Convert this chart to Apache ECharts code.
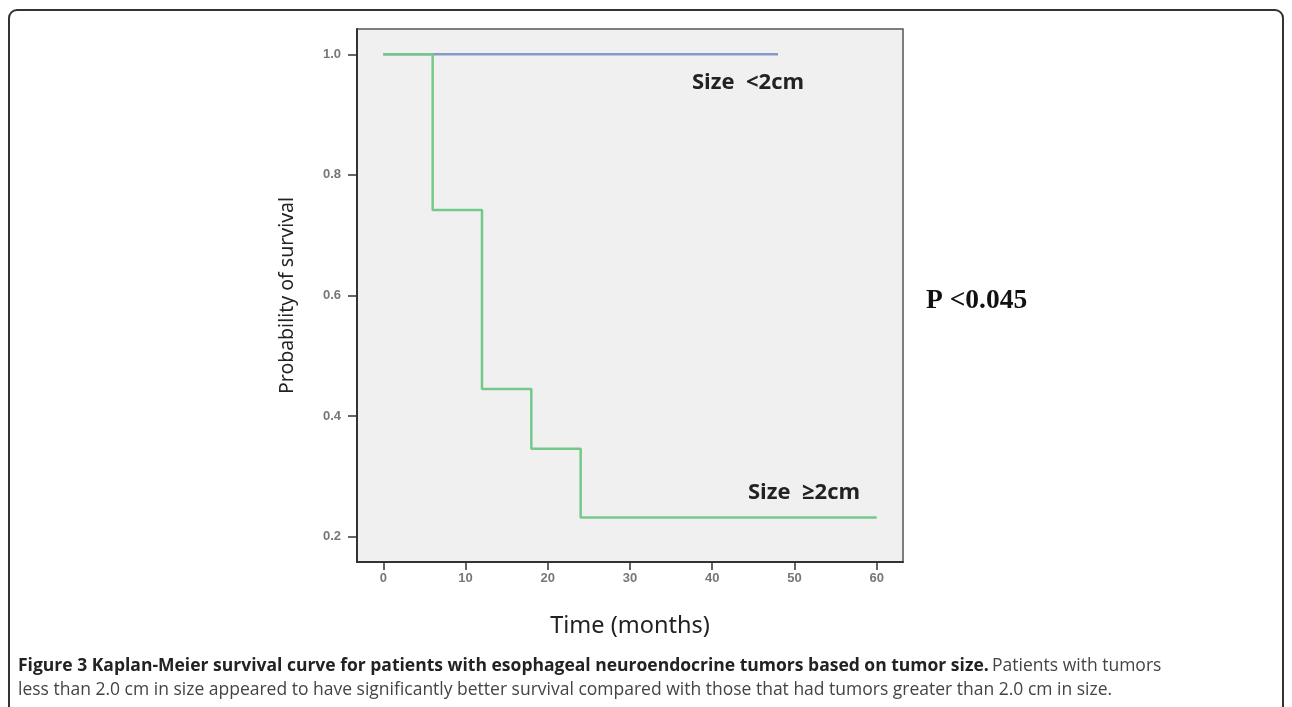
<!DOCTYPE html>
<html>
<head>
<meta charset="utf-8">
<script src="https://cdn.jsdelivr.net/npm/echarts@6/dist/echarts.min.js"></script>
<style>
html,body{margin:0;padding:0;background:#fff;}
#c{width:1292px;height:707px;}
</style>
</head>
<body>
<div id="c"></div>
<script>
// Data
const xTicks = [0, 10, 20, 30, 40, 50, 60];
const yTicks = [0.2, 0.4, 0.6, 0.8, 1.0];
const smallTime = [0, 48];
const smallSurv = [1.0, 1.0];
const largeTime = [0, 6, 12, 18, 24, 60];
const largeSurv = [1.0, 0.742, 0.445, 0.346, 0.232, 0.232];
const labelSmall = 'Size  <2cm';
const labelLarge = 'Size  \u22652cm';
const pText = 'P <0.045';
const xName = 'Time (months)';
const yName = 'Probability of survival';
const capBold = 'Figure 3 Kaplan-Meier survival curve for patients with esophageal neuroendocrine tumors based on tumor size.';
const capNorm1 = 'Patients with tumors';
const capLine2 = 'less than 2.0 cm in size appeared to have significantly better survival compared with those that had tumors greater than 2.0 cm in size.';

const pair = (xs, ys) => xs.map((x, i) => [x, ys[i]]);

const chart = echarts.init(document.getElementById('c'), null, {renderer: 'canvas'});
const capFont = '"Open Sans", "Noto Sans", sans-serif';
chart.setOption({
  animation: false,
  backgroundColor: '#ffffff',
  grid: {
    left: 357, top: 29, right: 389, bottom: 145,
    show: true, backgroundColor: '#f0f0f0', borderColor: '#555', borderWidth: 1.5
  },
  xAxis: {
    type: 'value', min: -3.2, max: 63.2,
    name: xName, nameLocation: 'middle', nameGap: 52,
    nameTextStyle: {fontSize: 23.5, color: '#222', fontFamily: '"Noto Sans", sans-serif'},
    axisLine: {show: true, onZero: false, lineStyle: {color: '#333', width: 2}},
    axisTick: {show: true, length: 8, customValues: xTicks, lineStyle: {color: '#333', width: 1.5}},
    axisLabel: {customValues: xTicks, margin: 10, color: '#777', fontSize: 13, fontWeight: 'bold', fontFamily: '"Liberation Sans", Arial, sans-serif'},
    splitLine: {show: false}
  },
  yAxis: {
    type: 'value', min: 0.158, max: 1.042,
    name: yName, nameLocation: 'middle', nameGap: 60, nameRotate: 90,
    nameTextStyle: {fontSize: 19.5, color: '#222', fontFamily: '"Noto Sans", sans-serif'},
    axisLine: {show: true, onZero: false, lineStyle: {color: '#333', width: 2}},
    axisTick: {show: true, length: 9, customValues: yTicks, lineStyle: {color: '#333', width: 1.5}},
    axisLabel: {customValues: yTicks, margin: 16, color: '#777', fontSize: 13, fontWeight: 'bold',
      fontFamily: '"Liberation Sans", Arial, sans-serif', formatter: v => v.toFixed(1)},
    splitLine: {show: false}
  },
  series: [
    {
      type: 'line', name: '<2cm', data: pair(smallTime, smallSurv), showSymbol: false,
      lineStyle: {color: '#8799c8', width: 2.5}, z: 2
    },
    {
      type: 'line', name: '>=2cm', step: 'end', data: pair(largeTime, largeSurv), showSymbol: false,
      lineStyle: {color: '#74c98a', width: 2.5}, z: 3
    }
  ],
  graphic: [
    {type: 'rect', shape: {x: 9, y: 10, width: 1274, height: 740, r: 8},
      style: {fill: 'none', stroke: '#333', lineWidth: 2}, silent: true},
    {type: 'text', x: 692, y: 83, style: {text: labelSmall, font: 'bold 22px "Open Sans", sans-serif', fill: '#222', textVerticalAlign: 'middle'}},
    {type: 'text', x: 748, y: 493, style: {text: labelLarge, font: 'bold 22px "Open Sans", sans-serif', fill: '#222', textVerticalAlign: 'middle'}},
    {type: 'text', x: 926, y: 301, style: {text: pText, font: 'bold 27.5px "Liberation Serif", serif', fill: '#111', textVerticalAlign: 'middle'}},
    {type: 'text', x: 18, y: 666, style: {
      text: '{b|' + capBold + '} {n|' + capNorm1 + '}',
      textVerticalAlign: 'middle',
      rich: {
        b: {font: 'bold 17.5px ' + capFont, fill: '#222'},
        n: {font: '17.5px ' + capFont, fill: '#444'}
      }
    }},
    {type: 'text', x: 18, y: 690, style: {text: capLine2, font: '17.5px ' + capFont, fill: '#444', textVerticalAlign: 'middle'}}
  ]
});
</script>
</body>
</html>
